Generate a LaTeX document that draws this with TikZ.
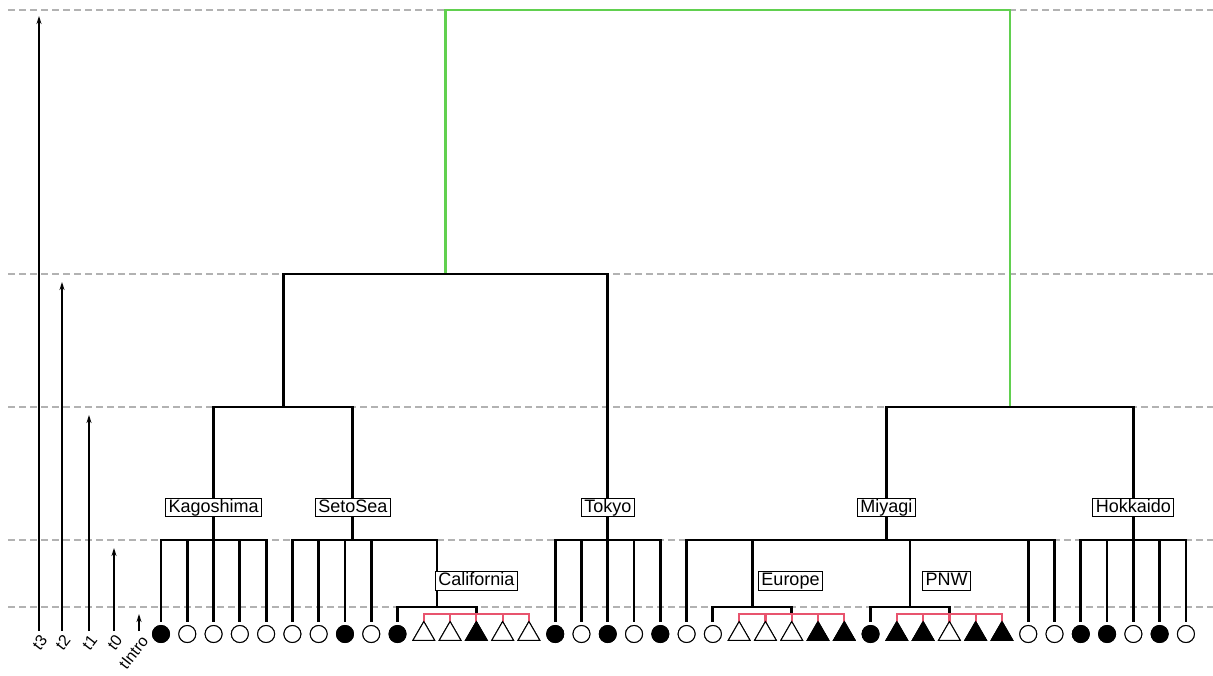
\documentclass[tikz,border=0pt]{standalone}
\usepackage{fontspec}
\setmainfont{Liberation Sans}
\usetikzlibrary{arrows.meta,shapes.geometric}
\definecolor{gridgray}{RGB}{178,178,178}
\definecolor{redc}{RGB}{232,84,110}
\definecolor{greenc}{RGB}{97,208,79}
\begin{document}
\begin{tikzpicture}[x=1pt,y=-1pt,
  grid/.style={gridgray, line width=1.2pt, dash pattern=on 7pt off 4pt},
  tree/.style={black, line width=2.8pt},
  redtree/.style={redc, line width=2.2pt},
  greentree/.style={greenc, line width=2.2pt},
  cO/.style={circle, draw=black, line width=1pt, fill=white, minimum size=17pt, inner sep=0pt, outer sep=4pt},
  cF/.style={cO, fill=black},
  tO/.style={regular polygon, regular polygon sides=3, draw=black, line width=1pt, fill=white, minimum size=25pt, inner sep=0pt, outer sep=0pt},
  tF/.style={tO, fill=black},
  lab/.style={draw=black, line width=1pt, fill=white, inner xsep=3pt, inner ysep=1.2pt, font=\fontsize{18}{20}\selectfont, text height=12.5pt, text depth=3.5pt},
  timearrow/.style={black, line width=1.2pt, -{Stealth[length=8pt,width=5pt]}},
  tlab/.style={font=\fontsize{16}{18}\selectfont, rotate=52, anchor=east, inner sep=0pt}
]
\useasboundingbox (0,0) rectangle (1213,675);

% dashed time levels
\foreach \yy [count=\k] in {10,274,407,540,607}
  \draw[grid] (8,\yy) coordinate (g\k a) -- (1213,\yy) coordinate (g\k b);

% leaves
\foreach \t [count=\i] in {cF,cO,cO,cO,cO,cO,cO,cF,cO,cF,tO,tO,tF,tO,tO,cF,cO,cF,cO,cF,cO,cO,tO,tO,tO,tF,tF,cF,tF,tF,tO,tF,tF,cO,cO,cF,cF,cO,cF,cO}
  \node[\t] (L\i) at ({161+(\i-1)*26.28},634) {};

% internal nodes
\coordinate (K)  at (213.56,540);
\coordinate (Cr) at (476.36,614);
\coordinate (C)  at (436.94,607);
\coordinate (S)  at (352.84,540);
\coordinate (To) at (607.76,540);
\coordinate (Er) at (791.72,614);
\coordinate (E)  at (752.30,607);
\coordinate (Pr) at (949.40,614);
\coordinate (P)  at (909.98,607);
\coordinate (M)  at (886.33,540);
\coordinate (H)  at (1133.36,540);
\coordinate (A)  at (283.20,407);
\coordinate (B)  at (1009.85,407);
\coordinate (D)  at (445.48,274);
\coordinate (R)  at (727.67,10);

% green top
\draw[greentree] (R) -| (D);
\draw[greentree] (R) -| (B);
% black tree
\draw[tree] (D) -| (A);
\draw[tree] (D) -| (To);
\draw[tree] (A) -| (K);
\draw[tree] (A) -| (S);
\draw[tree] (B) -| (M);
\draw[tree] (B) -| (H);
\foreach \i in {1,...,5} \draw[tree] (K) -| (L\i.north);
\foreach \i in {6,...,9} \draw[tree] (S) -| (L\i.north);
\draw[tree] (S) -| (C);
\draw[tree] (C) -| (L10.north);
\draw[tree] (C) -| (Cr);
\foreach \i in {11,...,15} \draw[redtree] (Cr) -| (L\i.north);
\foreach \i in {16,...,20} \draw[tree] (To) -| (L\i.north);
\draw[tree] (M) -| (L21.north);
\draw[tree] (M) -| (E);
\draw[tree] (M) -| (P);
\draw[tree] (M) -| (L34.north);
\draw[tree] (M) -| (L35.north);
\draw[tree] (E) -| (L22.north);
\draw[tree] (E) -| (Er);
\foreach \i in {23,...,27} \draw[redtree] (Er) -| (L\i.north);
\draw[tree] (P) -| (L28.north);
\draw[tree] (P) -| (Pr);
\foreach \i in {29,...,33} \draw[redtree] (Pr) -| (L\i.north);
\foreach \i in {36,...,40} \draw[tree] (H) -| (L\i.north);

% leaves drawn again on top of line ends
\foreach \t [count=\i] in {cF,cO,cO,cO,cO,cO,cO,cF,cO,cF,tO,tO,tF,tO,tO,cF,cO,cF,cO,cF,cO,cO,tO,tO,tO,tF,tF,cF,tF,tF,tO,tF,tF,cO,cO,cF,cF,cO,cF,cO}
  \node[\t] (LL\i) at (L\i) {};

% labels
\node[lab] (lK) at (213.56,507.5) {Kagoshima};
\node[lab] (lS) at (352.84,507.5) {SetoSea};
\node[lab] (lT) at (607.76,507.5) {Tokyo};
\node[lab] (lM) at (886.33,507.5) {Miyagi};
\node[lab] (lH) at (1133.36,507.5) {Hokkaido};
\node[lab] (lC) at (476.36,581) {California};
\node[lab] (lE) at (790.5,581) {Europe};
\node[lab] (lP) at (946.5,581) {PNW};

% time arrows
\coordinate (a3s) at (39,631);  \coordinate (a3e) at (39,16);
\coordinate (a2s) at (62,631);  \coordinate (a2e) at (62,282);
\coordinate (a1s) at (89,631);  \coordinate (a1e) at (89,415);
\coordinate (a0s) at (114,631); \coordinate (a0e) at (114,548);
\coordinate (ais) at (139,631); \coordinate (aie) at (139,614);
\draw[timearrow] (a3s) -- (a3e);
\draw[timearrow] (a2s) -- (a2e);
\draw[timearrow] (a1s) -- (a1e);
\draw[timearrow] (a0s) -- (a0e);
\draw[timearrow] (ais) -- (aie);
\node[tlab] (t3) at (44,637) {t3};
\node[tlab] (t2) at (67,637) {t2};
\node[tlab] (t1) at (94,637) {t1};
\node[tlab] (t0) at (119,637) {t0};
\node[tlab] (ti) at (145,638) {tIntro};
\end{tikzpicture}
\end{document}
